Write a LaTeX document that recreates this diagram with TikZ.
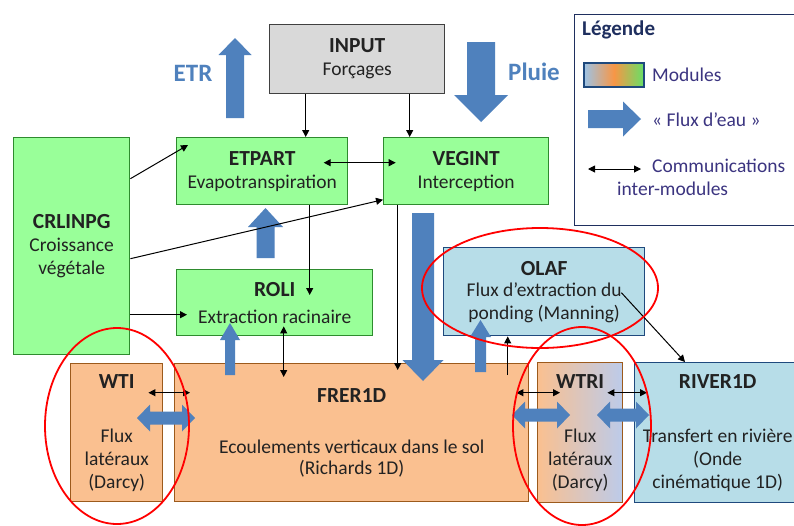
\documentclass[tikz,border=0pt]{standalone}
\usepackage{fontspec}
\setmainfont{Carlito}
\usetikzlibrary{arrows.meta,calc}
\definecolor{gbox}{HTML}{99FF99}
\definecolor{gedge}{HTML}{2E8B2E}
\definecolor{obox}{HTML}{FAC090}
\definecolor{oedge}{HTML}{9C5A1C}
\definecolor{bbox}{HTML}{B7DDE8}
\definecolor{bedge}{HTML}{1F497D}
\definecolor{greybox}{HTML}{D9D9D9}
\definecolor{greyedge}{HTML}{404040}
\definecolor{fluxblue}{HTML}{4F81BD}
\definecolor{textdark}{HTML}{222222}
\definecolor{legtext}{HTML}{3B3480}
\definecolor{legtitle}{HTML}{1F2F5F}
\definecolor{wtriblue}{HTML}{BCCBEA}
\definecolor{gradblue}{HTML}{9DC3E6}
\definecolor{gradorange}{HTML}{F79646}
\definecolor{gradgreen}{HTML}{66E066}
\newcommand{\mtitle}[1]{{\fontsize{21.5}{23}\selectfont\bfseries #1}}
\tikzset{
  module/.style={draw, line width=1.4pt, inner sep=0pt, anchor=north west, align=center,
    text=textdark, font=\fontsize{19.5}{23}\selectfont},
  greenmod/.style={module, fill=gbox, draw=gedge},
  orangemod/.style={module, fill=obox, draw=oedge},
  bluemod/.style={module, fill=bbox, draw=bedge},
  greymod/.style={module, fill=greybox, draw=greyedge},
  comm/.style={draw=black, line width=1pt, -{Triangle[length=7pt,width=7pt]}},
  commboth/.style={draw=black, line width=1pt, {Triangle[length=7pt,width=7pt]}-{Triangle[length=7pt,width=7pt]}},
  redring/.style={draw=red, line width=1.8pt},
  legt/.style={inner sep=0pt, anchor=west, text=legtext, font=\fontsize{19.5}{23}\selectfont},
  bluelabel/.style={inner sep=0pt, text=fluxblue, font=\fontsize{25}{28}\selectfont\bfseries},
  pics/fluxarrow/.style n args={4}{code={
    \fill[fluxblue] (0,-#2/2) -- (#1-#4,-#2/2) -- (#1-#4,-#3/2) -- (#1,0)
      -- (#1-#4,#3/2) -- (#1-#4,#2/2) -- (0,#2/2) -- cycle;}},
  pics/fluxdouble/.style n args={4}{code={
    \fill[fluxblue] (0,0) -- (#4,#3/2) -- (#4,#2/2) -- (#1-#4,#2/2) -- (#1-#4,#3/2)
      -- (#1,0) -- (#1-#4,-#3/2) -- (#1-#4,-#2/2) -- (#4,-#2/2) -- (#4,-#3/2) -- cycle;}},
}
\begin{document}
\begin{tikzpicture}[x=1pt,y=-1pt]
\useasboundingbox[fill=white] (0,0) rectangle (794,525);

% legend
\node[draw=legtitle, line width=1.4pt, inner sep=0pt, anchor=north west,
  minimum width=230pt, minimum height=211pt] (legend) at (574,14) {};
\node[inner sep=0pt, anchor=west, text=legtitle, font=\fontsize{21}{23}\selectfont\bfseries] (legtitle) at (582,30) {Légende};
\shade[left color=gradblue, right color=gradgreen, middle color=gradorange] (584,63) rectangle (644,87);
\draw[bedge, line width=1.4pt] (584,63) rectangle (644,87);
\node[legt] (legmod) at (652,75) {Modules};
\pic at (588,119) {fluxarrow={53}{18}{35}{18}};
\node[legt] (legflux) at (652,120) {« Flux d’eau »};
\node[legt] (legcomm) at (652,166) {Communications};
\node[legt] (leginter) at (617,189) {inter-modules};
\draw[commboth] ([xshift=14pt,yshift=-155pt]legend.north west) -- ([xshift=67pt,yshift=-155pt]legend.north west);

% modules
\node[greymod, minimum width=175pt, minimum height=69pt] (input) at (269,24) {\mtitle{INPUT}\\Forçages};
\node[greenmod, minimum width=171pt, minimum height=67pt] (etpart) at (176,137) {\mtitle{ETPART}\\Evapotranspiration};
\node[greenmod, minimum width=165pt, minimum height=67pt] (vegint) at (383,137) {\mtitle{VEGINT}\\Interception};
\node[greenmod, minimum width=116pt, minimum height=217pt] (crlinpg) at (13,137) {\mtitle{CRLINPG}\\Croissance\\végétale};
\node[greenmod, minimum width=196pt, minimum height=66pt] (roli) at (176,269) {\mtitle{ROLI}\\[4pt]Extraction racinaire};
\node[bluemod, minimum width=201pt, minimum height=88pt] (olaf) at (443,247) {\mtitle{OLAF}\\[-2pt]Flux d’extraction du\\ponding (Manning)};
\node[orangemod, minimum width=92pt, minimum height=138pt] (wti) at (70,363) {\mtitle{WTI}\\[31pt]Flux\\latéraux\\(Darcy)};
\node[orangemod, minimum width=354pt, minimum height=138pt] (frer) at (174,363) {\mtitle{FRER1D}\\[28pt]Ecoulements verticaux dans le sol\\[-2pt](Richards 1D)};
\node[module, draw=oedge, left color=obox, right color=wtriblue, minimum width=85pt, minimum height=140pt] (wtri) at (537,362) {\mtitle{WTRI}\\[31pt]Flux\\latéraux\\(Darcy)};
\node[bluemod, minimum width=166pt, minimum height=140pt] (river) at (634,362) {\mtitle{RIVER1D}\\[31pt]Transfert en rivière\\(Onde\\cinématique 1D)};

% labels
\node[bluelabel] (etr) at (193,73) {ETR};
\node[bluelabel] (pluie) at (534,72) {Pluie};

% water fluxes
\pic[rotate=90] at (235,118) {fluxarrow={80}{18}{33}{17}};
\pic[rotate=-90] at (481,42) {fluxarrow={80}{28}{54}{27}};
\pic[rotate=-90] at (423,213) {fluxarrow={168}{22}{41}{21}};
\pic[rotate=90] at (480.5,372) {fluxarrow={52}{11}{21}{17}};
\pic[rotate=90] at (230,375) {fluxarrow={52}{10}{20}{17}};
\pic[rotate=90] at (265.5,258) {fluxarrow={50}{18}{35}{19}};
\pic at (137,418) {fluxdouble={58}{13}{27}{13}};
\pic at (512,415) {fluxdouble={58}{13}{27}{13}};
\pic at (597,415) {fluxdouble={52}{13}{27}{13}};

% communications
\draw[comm] ([xshift=-51.5pt]input.south) -- ([xshift=43.5pt]etpart.north);
\draw[comm] ([xshift=52.5pt]input.south) -- ([xshift=-56.5pt]vegint.north);
\draw[commboth] ([xshift=61.5pt,yshift=8.5pt]etpart.center) -- ([xshift=-70.5pt,yshift=8.5pt]vegint.center);
\draw[comm] ([yshift=67.5pt]crlinpg.east) -- ([xshift=12pt,yshift=-8pt]etpart.north west);
\draw[comm] ([yshift=-12.5pt]crlinpg.east) -- ([yshift=-28.5pt]vegint.west);
\draw[comm] ([yshift=-68.5pt]crlinpg.east) -- ([xshift=11pt,yshift=-12pt]roli.west);
\draw[comm] ([xshift=47.5pt]etpart.south) -- ([xshift=35pt,yshift=-26pt]roli.north);
\draw[commboth] ([xshift=9pt,yshift=10pt]roli.south) -- ([xshift=-68pt,yshift=-14pt]frer.north);
\draw[comm] ([xshift=-68.5pt]vegint.south) -- ([xshift=46pt,yshift=-7pt]frer.north);
\draw[commboth] ([xshift=-15pt,yshift=40pt]wti.east) -- ([xshift=16pt,yshift=40pt]frer.west);
\draw[comm] ([xshift=156pt,yshift=-12pt]frer.north) -- ([xshift=-36.5pt]olaf.south);
\draw[commboth] ([xshift=-13pt,yshift=40pt]frer.east) -- ([xshift=23pt,yshift=40pt]wtri.west);
\draw[commboth] ([xshift=-16pt,yshift=40pt]wtri.east) -- ([xshift=13pt,yshift=40pt]river.west);
\draw[comm] ([xshift=-24pt,yshift=-1pt]olaf.east) -- ([xshift=51pt]river.north west);

% highlight rings
\draw[redring] (117,426) ellipse [x radius=72pt, y radius=98pt];
\draw[redring] (540,288) ellipse [x radius=118pt, y radius=60pt];
\draw[redring] (582,426) ellipse [x radius=69pt, y radius=99pt];
\end{tikzpicture}
\end{document}
